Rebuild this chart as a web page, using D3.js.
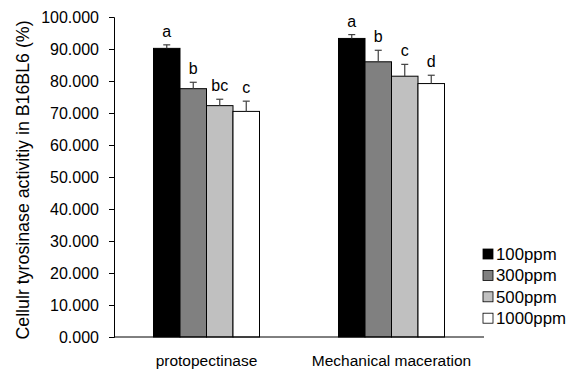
<!DOCTYPE html>
<html><head><meta charset="utf-8">
<script src="https://cdn.jsdelivr.net/npm/d3@7"></script>
<style>body{margin:0;background:#fff}svg{display:block}text{font-family:"Liberation Sans",Arial,sans-serif;fill:#000}</style>
</head><body><svg id="c" width="571" height="370"></svg>
<script>
const categories = ["protopectinase", "Mechanical maceration"];
const seriesNames = ["100ppm", "300ppm", "500ppm", "1000ppm"];
const seriesColors = ["#000000", "#808080", "#c0c0c0", "#ffffff"];
const values = [[90.2, 77.6, 72.3, 70.5], [93.3, 86.0, 81.5, 79.2]];
const errors = [[1.1, 2.0, 2.0, 3.2], [1.2, 3.6, 3.7, 2.6]];
const letters = [["a", "b", "bc", "c"], ["a", "b", "c", "d"]];
const yTicks = [0, 10, 20, 30, 40, 50, 60, 70, 80, 90, 100];
const yTitle = "Cellulr tyrosinase activitiy in B16BL6 (%)";

const svg = d3.select("#c");
const L = 114, R = 484, T = 17, B = 337;
const x0 = d3.scaleBand().domain(categories).range([L, R]).paddingInner(0.427).paddingOuter(0.2135);
const x1 = d3.scaleBand().domain(seriesNames).range([0, x0.bandwidth()]);
const y = d3.scaleLinear().domain([0, 100]).range([B, T]);

const yAxis = svg.append("g").attr("transform", `translate(${L},0)`)
  .call(d3.axisLeft(y).tickValues(yTicks).tickFormat(d3.format(".3f")).tickSize(5).tickPadding(10));
yAxis.select(".domain").attr("stroke", "#000");
yAxis.selectAll(".tick line").attr("stroke", "#000");
yAxis.selectAll("text").style("font-size", "16px").attr("font-family", null);

const groups = svg.append("g").selectAll("g").data(categories).join("g")
  .attr("transform", d => `translate(${x0(d)},0)`);
groups.each(function(cat, ci) {
  const g = d3.select(this);
  seriesNames.forEach((s, si) => {
    const v = values[ci][si], e = errors[ci][si];
    const bx = x1(s), bw = x1.bandwidth(), cx = bx + bw / 2;
    g.append("rect").attr("x", bx).attr("y", y(v)).attr("width", bw).attr("height", y(0) - y(v))
      .attr("fill", seriesColors[si]).attr("stroke", "#000").attr("stroke-width", 1);
    g.append("line").attr("x1", cx).attr("x2", cx).attr("y1", y(v)).attr("y2", y(v + e)).attr("stroke", "#404040").attr("stroke-width", 1.2);
    g.append("line").attr("x1", cx - 3.5).attr("x2", cx + 3.5).attr("y1", y(v + e)).attr("y2", y(v + e)).attr("stroke", "#404040").attr("stroke-width", 1.2);
    g.append("text").attr("x", cx).attr("y", y(v + e) - 8).attr("text-anchor", "middle").style("font-size", "16px").text(letters[ci][si]);
  });
});

svg.append("line").attr("x1", L).attr("x2", R).attr("y1", B).attr("y2", B).attr("stroke", "#000");

svg.append("g").selectAll("text").data(categories).join("text")
  .attr("x", d => x0(d) + x0.bandwidth() / 2).attr("y", 366).attr("text-anchor", "middle")
  .style("font-size", "15.5px").text(d => d);

svg.append("text").attr("transform", "translate(29,180) rotate(-90)").attr("text-anchor", "middle")
  .style("font-size", "17.8px").text(yTitle);

const leg = svg.append("g").selectAll("g").data(seriesNames).join("g")
  .attr("transform", (d, i) => `translate(483,${249 + i * 21.4})`);
leg.append("rect").attr("width", 10).attr("height", 10).attr("fill", (d, i) => seriesColors[i]).attr("stroke", "#000").attr("stroke-width", 0.8);
leg.append("text").attr("x", 13).attr("y", 10.8).style("font-size", "16.8px").text(d => d);
</script></body></html>
